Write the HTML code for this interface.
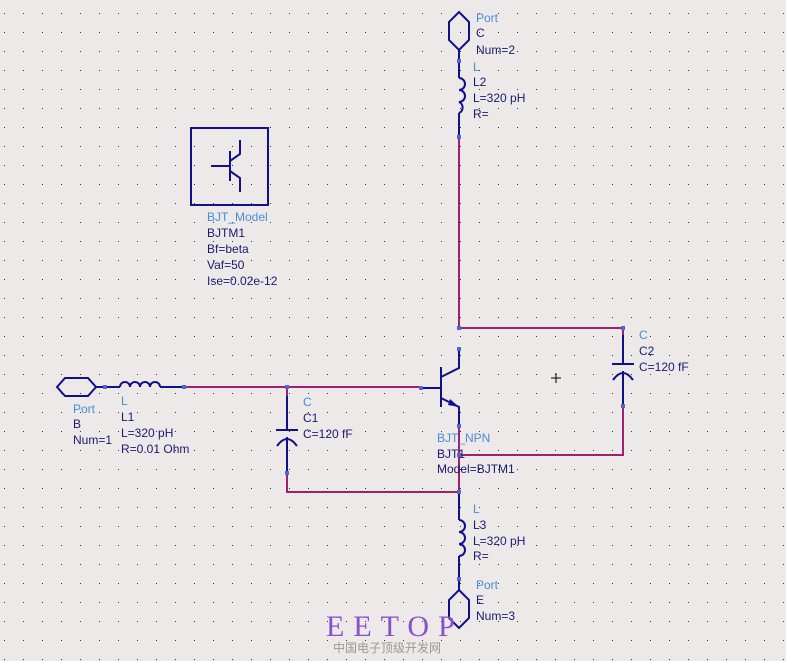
<!DOCTYPE html><html><head><style>body{margin:0;background:#ece9e8}svg{display:block}text{font-family:"Liberation Sans",sans-serif;font-size:12px;fill:#1a1a70}.l{fill:#4a8cd8}</style></head><body>
<svg width="786" height="661" xmlns="http://www.w3.org/2000/svg">
<defs><pattern id="g" x="4" y="13" width="19" height="19" patternUnits="userSpaceOnUse"><rect width="1" height="1" fill="#333"/></pattern></defs>
<rect width="786" height="661" fill="#ece9e8"/><rect width="786" height="661" fill="url(#g)"/>
<g stroke="#a0206f" stroke-width="2" fill="none">
<path d="M459 137V328H623V335M623 406V455H459M459 426V492H287V473M287 387H184M287 387V396M421 387H287"/>
</g>
<g stroke="#10108a" stroke-width="2" fill="none">
<path d="M459 12L469 22V40L459 50L449 40V22Z"/>
<path d="M459 50V78M459 113V137"/>
<path d="M459 78a6 6 0 0 1 0 12a6 6 0 0 1 0 12a6 6 0 0 1 0 11"/>
<path d="M57 387L65 378H88L96 387L88 396H65Z"/>
<path d="M96 387H120M160 387H184"/>
<path d="M120 387a5 5 0 0 1 10 0a5 5 0 0 1 10 0a5 5 0 0 1 10 0a5 5 0 0 1 10 0"/>
<path d="M441 367V407M421 388H441M441 377L459 368V349M441 398L459 407V426"/>
<path d="M459 492V520M459 556V579M459 520a6 6 0 0 1 0 12a6 6 0 0 1 0 12a6 6 0 0 1 0 12"/>
<path d="M459 590L469 600V618L459 628L449 618V600Z M459 579V590"/>
<path d="M287 396V430M276 430H298M277 446q10-14 20 0M287 437V473"/>
<path d="M623 335V364M612 364H634M613 380q10-14 20 0M623 371V406"/>
<rect x="191" y="128" width="77" height="77"/>
<path d="M211 166H230M230 151V181M230 161L240 154V140M230 171L240 178V192"/>
</g>
<polygon points="459,407 450,399 448,405" fill="#10108a"/>
<g fill="#4a6ad0"><rect x="457" y="135" width="4" height="4"/><rect x="457" y="326" width="4" height="4"/><rect x="457" y="347" width="4" height="4"/><rect x="457" y="424" width="4" height="4"/><rect x="457" y="453" width="4" height="4"/><rect x="457" y="490" width="4" height="4"/><rect x="419" y="386" width="4" height="4"/><rect x="285" y="385" width="4" height="4"/><rect x="285" y="471" width="4" height="4"/><rect x="621" y="326" width="4" height="4"/><rect x="621" y="404" width="4" height="4"/><rect x="182" y="385" width="4" height="4"/><rect x="103" y="385" width="4" height="4"/><rect x="457" y="59" width="4" height="4"/><rect x="457" y="577" width="4" height="4"/></g>
<text x="476" y="22" class="l">Port</text><text x="476" y="37">C</text><text x="476" y="54">Num=2</text>
<text x="473" y="71" class="l">L</text><text x="473" y="86">L2</text><text x="473" y="102">L=320 pH</text><text x="473" y="118">R=</text>
<text x="207" y="221" class="l">BJT_Model</text><text x="207" y="237">BJTM1</text><text x="207" y="253">Bf=beta</text><text x="207" y="269">Vaf=50</text><text x="207" y="285">Ise=0.02e-12</text>
<text x="639" y="339" class="l">C</text><text x="639" y="355">C2</text><text x="639" y="371">C=120 fF</text>
<text x="303" y="406" class="l">C</text><text x="303" y="422">C1</text><text x="303" y="438">C=120 fF</text>
<text x="73" y="413" class="l">Port</text><text x="73" y="428">B</text><text x="73" y="444">Num=1</text>
<text x="121" y="405" class="l">L</text><text x="121" y="421">L1</text><text x="121" y="437">L=320 pH</text><text x="121" y="453">R=0.01 Ohm</text>
<text x="437" y="442" class="l">BJT_NPN</text><text x="437" y="458">BJT1</text><text x="437" y="473">Model=BJTM1</text>
<text x="473" y="513" class="l">L</text><text x="473" y="529">L3</text><text x="473" y="545">L=320 pH</text><text x="473" y="560">R=</text>
<text x="476" y="589" class="l">Port</text><text x="476" y="604">E</text><text x="476" y="620">Num=3</text>
<path d="M551 378H561M556 373V383" stroke="#000" stroke-width="1"/>
<text x="326" y="636" style="font-family:'Liberation Serif',serif;font-size:30px;fill:#8a50d0;letter-spacing:9px">EETOP</text>
<text x="333" y="652" style="font-family:'Liberation Sans','Noto Sans CJK SC',sans-serif;font-size:12px;fill:#999">中国电子顶级开发网</text>
</svg></body></html>
